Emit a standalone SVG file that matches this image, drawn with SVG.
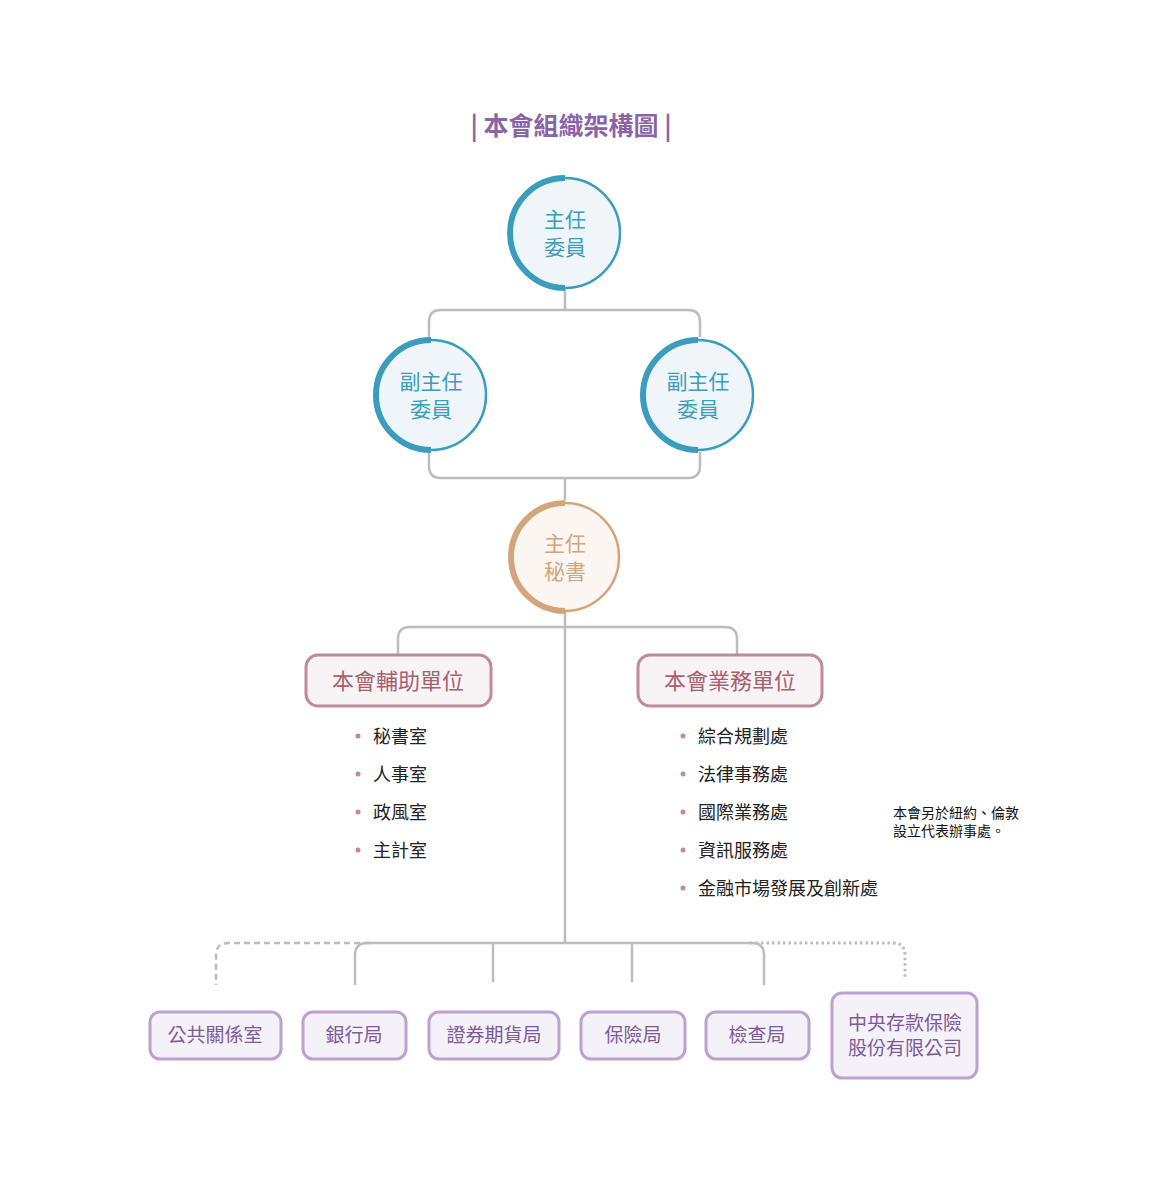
<svg xmlns="http://www.w3.org/2000/svg" width="1162" height="1200" viewBox="0 0 1162 1200">
<style>
text{font-family:"Noto Sans CJK TC","Noto Sans CJK SC",sans-serif}
.ln{fill:none;stroke:#bdbdbd;stroke-width:2.5}
.bc{fill:#eff5f8;stroke:#3a9dbd;stroke-width:2.5}
.ba{fill:none;stroke:#3a9dbd;stroke-width:6}
.bt{fill:#3a9dbd;font-size:21px;text-anchor:middle}
.pb{fill:#f8f3f5;stroke:#c08a9a;stroke-width:3}
.pt{fill:#a8606f;font-size:22px;text-anchor:middle}
.vb{fill:#f5f1f8;stroke:#bda1d0;stroke-width:3}
.vt{fill:#7d5a99;font-size:19px;text-anchor:middle}
.li{fill:#222;font-size:18px}
.dot{fill:#c08a9a}
</style>
<text x="571" y="135" font-size="25" font-weight="bold" fill="#8a63a8" text-anchor="middle">| 本會組織架構圖 |</text>
<g id="connectors">
<path class="ln" d="M565 288V310M429 337V322Q429 310 441 310H688Q700 310 700 322V337"/>
<path class="ln" d="M429 452V466Q429 478 441 478H688Q700 478 700 466V452M565 478V500"/>
<path class="ln" d="M565 611V943M398 655V639Q398 627 410 627H725Q737 627 737 639V655"/>
<path class="ln" d="M355 985V955Q355 943 367 943H752Q764 943 764 955V985M493 943V982M632 943V982"/>
<path d="M370 943H228Q216 943 216 955V985" fill="none" stroke="#bdbdbd" stroke-width="2.5" stroke-dasharray="6 4"/>
<path d="M750 943H893Q905 943 905 955V978" fill="none" stroke="#bdbdbd" stroke-width="3" stroke-dasharray="2.5 3"/>
</g>
<g id="chair"><circle class="bc" cx="565" cy="233" r="55"/><path class="ba" d="M565 178A55 55 0 0 0 565 288"/><text class="bt" x="565" y="227">主任</text><text class="bt" x="565" y="255">委員</text></g>
<g id="vice1"><circle class="bc" cx="431" cy="395" r="55"/><path class="ba" d="M431 340A55 55 0 0 0 431 450"/><text class="bt" x="431" y="389">副主任</text><text class="bt" x="431" y="417">委員</text></g>
<g id="vice2"><circle class="bc" cx="698" cy="395" r="55"/><path class="ba" d="M698 340A55 55 0 0 0 698 450"/><text class="bt" x="698" y="389">副主任</text><text class="bt" x="698" y="417">委員</text></g>
<g id="secgen"><circle cx="565" cy="557" r="54" fill="#fbf6f1" stroke="#d3a57a" stroke-width="2.5"/><path d="M565 503A54 54 0 0 0 565 611" fill="none" stroke="#d3a57a" stroke-width="6"/><text x="565" y="551" font-size="21" fill="#d3a57a" text-anchor="middle">主任</text><text x="565" y="579" font-size="21" fill="#d3a57a" text-anchor="middle">秘書</text></g>
<g id="aux"><rect class="pb" x="306" y="655" width="185" height="51" rx="12"/><text class="pt" x="398" y="689">本會輔助單位</text>
<circle class="dot" cx="358" cy="736" r="2.5"/><text class="li" x="373" y="743">秘書室</text>
<circle class="dot" cx="358" cy="774" r="2.5"/><text class="li" x="373" y="781">人事室</text>
<circle class="dot" cx="358" cy="812" r="2.5"/><text class="li" x="373" y="819">政風室</text>
<circle class="dot" cx="358" cy="850" r="2.5"/><text class="li" x="373" y="857">主計室</text></g>
<g id="biz"><rect class="pb" x="638" y="655" width="184" height="51" rx="12"/><text class="pt" x="730" y="689">本會業務單位</text>
<circle class="dot" cx="683" cy="736" r="2.5"/><text class="li" x="698" y="743">綜合規劃處</text>
<circle class="dot" cx="683" cy="774" r="2.5"/><text class="li" x="698" y="781">法律事務處</text>
<circle class="dot" cx="683" cy="812" r="2.5"/><text class="li" x="698" y="819">國際業務處</text>
<circle class="dot" cx="683" cy="850" r="2.5"/><text class="li" x="698" y="857">資訊服務處</text>
<circle class="dot" cx="683" cy="888" r="2.5"/><text class="li" x="698" y="895">金融市場發展及創新處</text></g>
<g id="note"><text x="893" y="818" font-size="14" fill="#111">本會另於紐約、倫敦</text><text x="893" y="836" font-size="14" fill="#111">設立代表辦事處。</text></g>
<g id="pr"><rect class="vb" x="150" y="1012" width="131" height="47" rx="10"/><text class="vt" x="215" y="1042">公共關係室</text></g>
<g id="bank"><rect class="vb" x="303" y="1012" width="103" height="47" rx="10"/><text class="vt" x="354" y="1042">銀行局</text></g>
<g id="sec"><rect class="vb" x="429" y="1012" width="130" height="47" rx="10"/><text class="vt" x="494" y="1042">證券期貨局</text></g>
<g id="ins"><rect class="vb" x="581" y="1012" width="104" height="47" rx="10"/><text class="vt" x="633" y="1042">保險局</text></g>
<g id="exam"><rect class="vb" x="706" y="1012" width="103" height="47" rx="10"/><text class="vt" x="757" y="1042">檢查局</text></g>
<g id="cdic"><rect class="vb" x="832" y="993" width="145" height="85" rx="10"/><text class="vt" x="905" y="1030">中央存款保險</text><text class="vt" x="905" y="1055">股份有限公司</text></g>
</svg>
